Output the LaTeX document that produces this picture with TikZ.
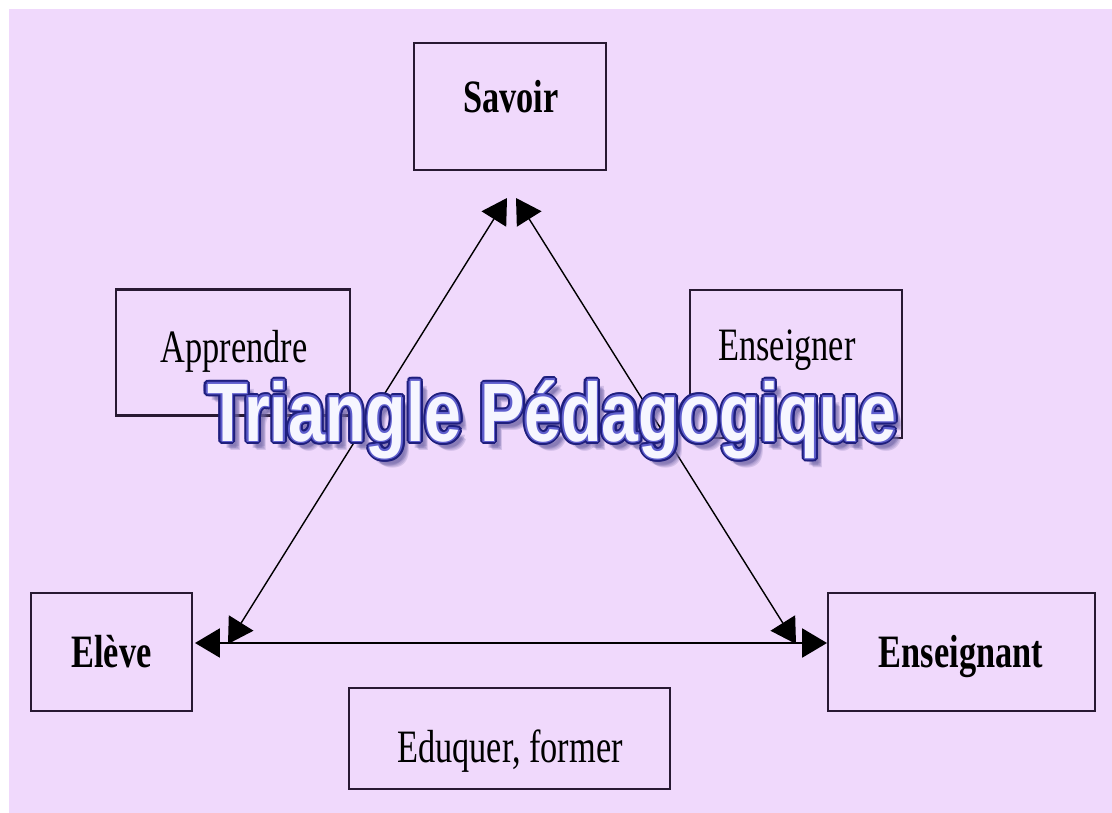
\documentclass[tikz,border=0pt]{standalone}
\usepackage{fontspec}
\usetikzlibrary{arrows.meta}
\newfontfamily\boxfont{Liberation Serif}[FakeStretch=0.74]
\newfontfamily\ttlfont{Liberation Sans}[FakeStretch=0.8]
\definecolor{bg}{RGB}{240,217,252}
\definecolor{edge}{RGB}{40,25,50}
\definecolor{navy}{RGB}{30,30,125}
\definecolor{midblue}{RGB}{95,95,205}
\definecolor{core}{RGB}{246,246,255}
\definecolor{shadowc}{RGB}{110,100,165}
\newcommand\ttltext{Triangle Pédagogique}
\begin{document}
\begin{tikzpicture}[x=0.025cm,y=-0.025cm,
  box/.style={draw=edge,line width=1.8pt,fill=bg,inner sep=0pt},
  lbl/.style={font=\boxfont\fontsize{33}{33}\selectfont,inner sep=0pt,anchor=base},
  blbl/.style={font=\boxfont\bfseries\fontsize{33}{33}\selectfont,inner sep=0pt,anchor=base},
  ttl/.style={font=\ttlfont\bfseries\fontsize{59}{59}\selectfont,inner sep=0pt,anchor=base},
  arr/.style={draw=black,line width=1pt,{Triangle[length=0.62cm,width=0.72cm]}-{Triangle[length=0.62cm,width=0.72cm]}},
  harr/.style={draw=black,line width=1.8pt,{Triangle[length=0.62cm,width=0.72cm]}-{Triangle[length=0.62cm,width=0.72cm]}}
]
\useasboundingbox (0,0) rectangle (1112,813);
\fill[white] (0,0) rectangle (1112,813);
\fill[bg] (9,9) rectangle (1112,813);

% boxes
\node[box,minimum width=4.8cm,minimum height=3.175cm] (savoir) at (510,106.5) {};
\node[box,minimum width=5.85cm,minimum height=3.15cm] (apprendre) at (233,352.5) {};
\node[box,minimum width=5.3cm,minimum height=3.7cm] (enseigner) at (796,364) {};
\node[box,minimum width=4.025cm,minimum height=2.95cm] (eleve) at (111.5,652) {};
\node[box,minimum width=6.675cm,minimum height=2.95cm] (enseignant) at (961.5,652) {};
\node[box,minimum width=8.025cm,minimum height=2.525cm] (eduquer) at (509.5,738.5) {};

% labels
\node[blbl] (tsavoir) at (511,113) {Savoir};
\node[lbl] (tapprendre) at (234,362) {Apprendre};
\node[lbl] (tenseigner) at (787,360) {Enseigner};
\node[blbl] (televe) at (111.5,667) {Elève};
\node[blbl] (tenseignant) at (961,667) {Enseignant};
\node[lbl] (teduquer) at (510,762) {Eduquer, former};

% connector end points
\coordinate (sL) at (507,198);
\coordinate (sR) at (516,198);
\coordinate (eL) at (228,644);
\coordinate (eR) at (796,644);
\coordinate (hL) at (195,643);
\coordinate (hR) at (827,643);

\draw[arr] (sL) -- (eL);
\draw[arr] (sR) -- (eR);
\draw[harr] (hL) -- (hR);

% title with shadow and outline
\coordinate (tpos) at (552,441);
\foreach \dx/\dy [count=\i] in {5/6,6/7,7/8,4/7,7/5,8/9}
  \node[ttl,text=shadowc,opacity=0.22] (sh\i) at ([shift={(\dx,\dy)}]tpos) {\ttltext};
\foreach \a [count=\i] in {0,22.5,...,337.5}
  \node[ttl,text=navy] (ol\i) at ([shift={(\a:3.6)}]tpos) {\ttltext};
\foreach \a [count=\i] in {0,45,...,315}
  \node[ttl,text=midblue] (ml\i) at ([shift={(\a:1.6)}]tpos) {\ttltext};
\node[ttl,text=core] (title) at (tpos) {\ttltext};
\end{tikzpicture}
\end{document}
